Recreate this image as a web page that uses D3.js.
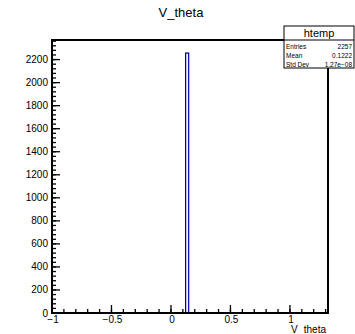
<!DOCTYPE html>
<html><head><meta charset="utf-8">
<script src="https://cdn.jsdelivr.net/npm/d3@7"></script>
<style>body{margin:0;background:#fff}svg{display:block}text{font-family:"Liberation Sans",Arial,sans-serif}</style>
</head><body><svg id="c" width="355" height="334"></svg>
<script>
const binLow = [0.118];
const binHigh = [0.154];
const counts = [2257];
const xMajorTicks = [-1, -0.5, 0, 0.5, 1];
const xTickLabels = ["\u22121", "\u22120.5", "0", "0.5", "1"];
const yMajorTicks = [0, 200, 400, 600, 800, 1000, 1200, 1400, 1600, 1800, 2000, 2200];
const statsLabels = ["Entries", "Mean", "Std Dev"];
const statsValues = ["2257", "0.1222", "1.27e\u221208"];

const svg = d3.select("#c");
const L = 52, R = 328, T = 40, B = 313;
const x = d3.scaleLinear().domain([-1, 1.32]).range([L, R]);
const y = d3.scaleLinear().domain([0, 2370]).range([B, T]);

// bars
svg.selectAll("rect.bar").data(counts).enter().append("rect")
  .attr("x", (d,i)=>x(binLow[i])+0.6).attr("y", d=>y(d))
  .attr("width", (d,i)=>x(binHigh[i])-x(binLow[i])-1.2).attr("height", d=>B-y(d))
  .attr("fill", "#f4f4fa").attr("stroke", "#000099").attr("stroke-width", 1.2);

// frame
svg.append("rect").attr("x", L).attr("y", T).attr("width", R-L).attr("height", B-T)
  .attr("fill", "none").attr("stroke", "#000").attr("stroke-width", 2);

// x ticks
const xMinor = d3.range(-1, 1.3001, 0.1);
svg.selectAll("line.xmin").data(xMinor).enter().append("line")
  .attr("x1", d=>x(d)).attr("x2", d=>x(d)).attr("y1", B).attr("y2", B-4)
  .attr("stroke", "#000").attr("stroke-width", 1.3);
svg.selectAll("line.xmaj").data(xMajorTicks).enter().append("line")
  .attr("x1", d=>x(d)).attr("x2", d=>x(d)).attr("y1", B).attr("y2", B-8)
  .attr("stroke", "#000").attr("stroke-width", 1.3);
svg.selectAll("text.xl").data(xMajorTicks).enter().append("text")
  .attr("x", d=>x(d)+1).attr("y", B+10).attr("text-anchor", "middle")
  .attr("font-size", 10).text((d,i)=>xTickLabels[i]);

// y ticks
const yMinor = d3.range(0, 2370, 40);
svg.selectAll("line.ymin").data(yMinor).enter().append("line")
  .attr("x1", L).attr("x2", L+4).attr("y1", d=>y(d)).attr("y2", d=>y(d))
  .attr("stroke", "#000").attr("stroke-width", 1.3);
svg.selectAll("line.ymaj").data(yMajorTicks).enter().append("line")
  .attr("x1", L).attr("x2", L+8).attr("y1", d=>y(d)).attr("y2", d=>y(d))
  .attr("stroke", "#000").attr("stroke-width", 1.3);
svg.selectAll("text.yl").data(yMajorTicks).enter().append("text")
  .attr("x", L-4).attr("y", d=>y(d)+3.5).attr("text-anchor", "end")
  .attr("font-size", 10).text(d=>d);

// title
svg.append("text").attr("x", 181).attr("y", 17).attr("text-anchor", "middle")
  .attr("font-size", 13).text("V_theta");

// x axis title
const xt = svg.append("text").attr("x", R-2).attr("y", 333).attr("text-anchor", "end").attr("font-size", 10);
xt.append("tspan").text("V");
xt.append("tspan").attr("dx", 6).text("theta");

// stats box
const sx = 284, sw = 70, sy = 26, sh = 42, hdr = 14;
svg.append("rect").attr("x", sx).attr("y", sy).attr("width", sw).attr("height", sh)
  .attr("fill", "#fff").attr("stroke", "#000").attr("stroke-width", 1);
svg.append("line").attr("x1", sx).attr("x2", sx+sw).attr("y1", sy+hdr).attr("y2", sy+hdr)
  .attr("stroke", "#000").attr("stroke-width", 1);
svg.append("text").attr("x", sx+sw/2).attr("y", sy+11).attr("text-anchor", "middle")
  .attr("font-size", 11).text("htemp");
statsLabels.forEach((s,i)=>{
  svg.append("text").attr("x", sx+2).attr("y", sy+hdr+8.5+i*9).attr("font-size", 6.5).text(s);
  svg.append("text").attr("x", sx+sw-2).attr("y", sy+hdr+8.5+i*9).attr("text-anchor", "end")
    .attr("font-size", 6.5).text(statsValues[i]);
});
</script></body></html>
